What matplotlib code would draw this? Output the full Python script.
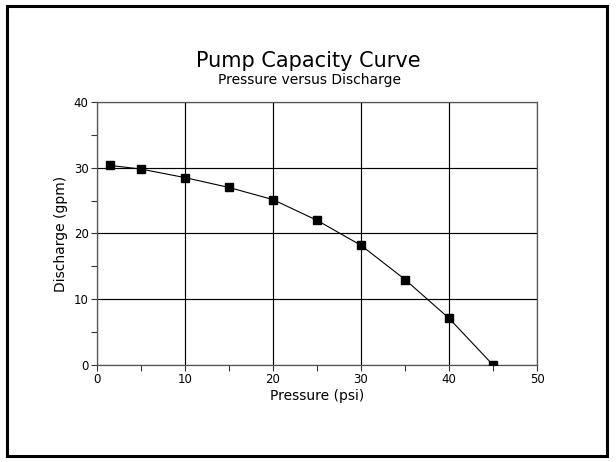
import matplotlib
matplotlib.use('Agg')
import matplotlib.pyplot as plt
from matplotlib.patches import Rectangle

plt.rcParams.update({
    'font.family': ['DejaVu Sans'],
    'font.size': 9,
})

# data
pressure_psi = [1.5, 5, 10, 15, 20, 25, 30, 35, 40, 45]
discharge_gpm = [30.35, 29.8, 28.5, 27.0, 25.15, 22.0, 18.2, 13.0, 7.1, 0.0]
x_ticks = [0, 10, 20, 30, 40, 50]
y_ticks = [0, 10, 20, 30, 40]

fig = plt.figure(figsize=(6.16, 4.62), dpi=100)
ax = fig.add_axes([0.1575, 0.2100, 0.7143, 0.5692])

# outer frame round the whole picture
fig.patches.append(Rectangle((0.011, 0.012), 0.974, 0.975, transform=fig.transFigure,
                             fill=False, edgecolor='black', linewidth=2.2))

ax.plot(pressure_psi, discharge_gpm, color='black', linewidth=0.8,
        marker='s', markersize=5.5, markerfacecolor='black', markeredgecolor='black',
        zorder=3)

ax.set_xlim(0, 50)
ax.set_ylim(0, 40)
ax.set_xticks(x_ticks)
ax.set_yticks(y_ticks)
ax.set_xticks([5, 15, 25, 35, 45], minor=True)
ax.set_yticks([5, 15, 25, 35], minor=True)
ax.tick_params(which='both', direction='out', length=4, width=0.8,
               labelsize=8.5, pad=2, color='#333333')
ax.grid(True, which='major', color='black', linewidth=0.85)
for s in ax.spines.values():
    s.set_linewidth(0.9)
    s.set_color('#555555')

ax.set_xlabel('Pressure (psi)', fontsize=10, labelpad=2)
ax.set_ylabel('Discharge (gpm)', fontsize=10, labelpad=4)

fig.text(0.500, 0.855, 'Pump Capacity Curve', ha='center', va='baseline',
         fontsize=15)
fig.text(0.502, 0.818, 'Pressure versus Discharge', ha='center', va='baseline',
         fontsize=10)

fig.savefig('out.png', dpi=100)
